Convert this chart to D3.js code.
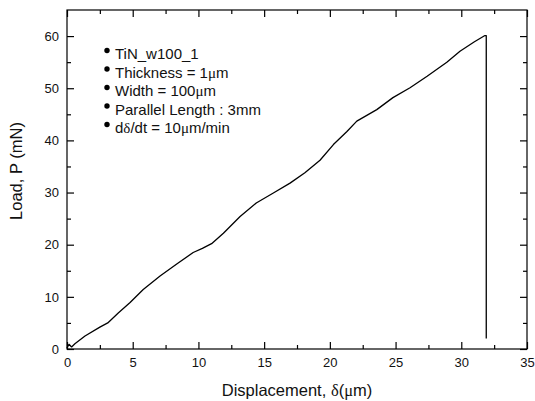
<!DOCTYPE html>
<html>
<head>
<meta charset="utf-8">
<script src="https://cdn.jsdelivr.net/npm/d3@7"></script>
<style>
  body { margin: 0; background: #fff; }
  svg { font-family: Arial, "Liberation Sans", sans-serif; }
</style>
</head>
<body>
<div class="container"></div>
<script>
// displacement (um) and load (mN)
const displacement = [0, 0.15, 0.35, 0.6, 1.37, 2.5, 3.1, 3.9, 4.8, 5.8, 7.08, 8.35, 9.6, 10.3, 11.0, 11.9,
  13.17, 14.4, 15.7, 16.97, 18.1, 19.25, 20.27, 21.3, 22.05, 23.57, 24.8, 26.1, 27.4, 28.9, 29.9, 31.0, 31.8, 31.9, 31.9];
const load = [0.2, 0.9, 0.4, 1.0, 2.5, 4.2, 5.0, 6.9, 8.9, 11.4, 14.0, 16.3, 18.5, 19.3, 20.2, 22.2,
  25.4, 28.0, 29.9, 31.8, 33.8, 36.2, 39.2, 41.7, 43.7, 45.9, 48.2, 50.1, 52.3, 55.0, 57.1, 58.9, 60.1, 60.1, 2.0];

const xTicks = [0, 5, 10, 15, 20, 25, 30, 35];
const yTicks = [0, 10, 20, 30, 40, 50, 60];
const xMinor = [2.5, 7.5, 12.5, 17.5, 22.5, 27.5, 32.5];
const yMinor = [5, 15, 25, 35, 45, 55];

const legendLines = [
  ['TiN_w100_1'],
  ['Thickness = 1', 'μ', 'm'],
  ['Width = 100', 'μ', 'm'],
  ['Parallel Length : 3mm'],
  ['d', 'δ', '/dt = 10', 'μ', 'm/min'],
];

const width = 535;
const height = 401;
const plotLeft = 67;
const plotRight = 527;
const plotTop = 10;
const plotBottom = 349;

const x = d3.scaleLinear().domain([0, 35]).range([plotLeft, plotRight]);
const y = d3.scaleLinear().domain([0, 65]).range([plotBottom, plotTop]);

const svg = d3.select('.container')
  .append('svg')
  .attr('width', width)
  .attr('height', height);

// frame
svg.append('rect')
  .attr('x', plotLeft)
  .attr('y', plotTop)
  .attr('width', plotRight - plotLeft)
  .attr('height', plotBottom - plotTop)
  .attr('fill', 'none')
  .attr('stroke', '#000')
  .attr('stroke-width', 1.2);

function styleAxis(g) {
  g.select('.domain').remove();
  g.selectAll('line').attr('stroke', '#000').attr('stroke-width', 1.2);
  g.selectAll('text').attr('fill', '#111').style('font-size', '13px');
}

// bottom
svg.append('g')
  .attr('transform', `translate(0, ${plotBottom})`)
  .call(d3.axisBottom(x).tickValues(xTicks).tickSize(-7).tickPadding(9).tickFormat(d3.format('d')))
  .call(styleAxis);
svg.append('g')
  .attr('transform', `translate(0, ${plotBottom})`)
  .call(d3.axisBottom(x).tickValues(xMinor).tickSize(-4).tickFormat(''))
  .call(styleAxis);

// top
svg.append('g')
  .attr('transform', `translate(0, ${plotTop})`)
  .call(d3.axisTop(x).tickValues(xTicks).tickSize(-7).tickFormat(''))
  .call(styleAxis);
svg.append('g')
  .attr('transform', `translate(0, ${plotTop})`)
  .call(d3.axisTop(x).tickValues(xMinor).tickSize(-4).tickFormat(''))
  .call(styleAxis);

// left
svg.append('g')
  .attr('transform', `translate(${plotLeft}, 0)`)
  .call(d3.axisLeft(y).tickValues(yTicks).tickSize(-7).tickPadding(8).tickFormat(d3.format('d')))
  .call(styleAxis);
svg.append('g')
  .attr('transform', `translate(${plotLeft}, 0)`)
  .call(d3.axisLeft(y).tickValues(yMinor).tickSize(-4).tickFormat(''))
  .call(styleAxis);

// right
svg.append('g')
  .attr('transform', `translate(${plotRight}, 0)`)
  .call(d3.axisRight(y).tickValues(yTicks).tickSize(-7).tickFormat(''))
  .call(styleAxis);
svg.append('g')
  .attr('transform', `translate(${plotRight}, 0)`)
  .call(d3.axisRight(y).tickValues(yMinor).tickSize(-4).tickFormat(''))
  .call(styleAxis);

// curve
const points = displacement.map((d, i) => [d, load[i]]);
svg.append('path')
  .datum(points)
  .attr('fill', 'none')
  .attr('stroke', '#000')
  .attr('stroke-width', 1.3)
  .attr('stroke-linejoin', 'round')
  .attr('d', d3.line().x((d) => x(d[0])).y((d) => y(d[1])));

// axis titles
const xTitle = svg.append('text')
  .attr('x', (plotLeft + plotRight) / 2)
  .attr('y', 396)
  .attr('text-anchor', 'middle')
  .style('font-size', '16.5px')
  .attr('fill', '#111');
xTitle.append('tspan').text('Displacement, ');
xTitle.append('tspan').style('font-family', '"Liberation Serif", serif').text('δ');
xTitle.append('tspan').text('(');
xTitle.append('tspan').style('font-family', '"Liberation Serif", serif').text('μ');
xTitle.append('tspan').text('m)');

svg.append('text')
  .attr('transform', 'translate(22, 171) rotate(-90)')
  .attr('text-anchor', 'middle')
  .style('font-size', '16.5px')
  .attr('fill', '#111')
  .text('Load, P (mN)');

// legend notes
const greek = new Set(['μ', 'δ']);
const legend = svg.append('g');
legendLines.forEach((parts, i) => {
  const by = 59 + i * 18.5;
  legend.append('circle')
    .attr('cx', 107)
    .attr('cy', by - 8.5)
    .attr('r', 2.7)
    .attr('fill', '#000');
  const t = legend.append('text')
    .attr('x', 115)
    .attr('y', by)
    .style('font-size', '15px')
    .attr('fill', '#111');
  parts.forEach((p) => {
    const s = t.append('tspan').text(p);
    if (greek.has(p)) s.style('font-family', '"Liberation Serif", serif');
  });
});
</script>
</body>
</html>
